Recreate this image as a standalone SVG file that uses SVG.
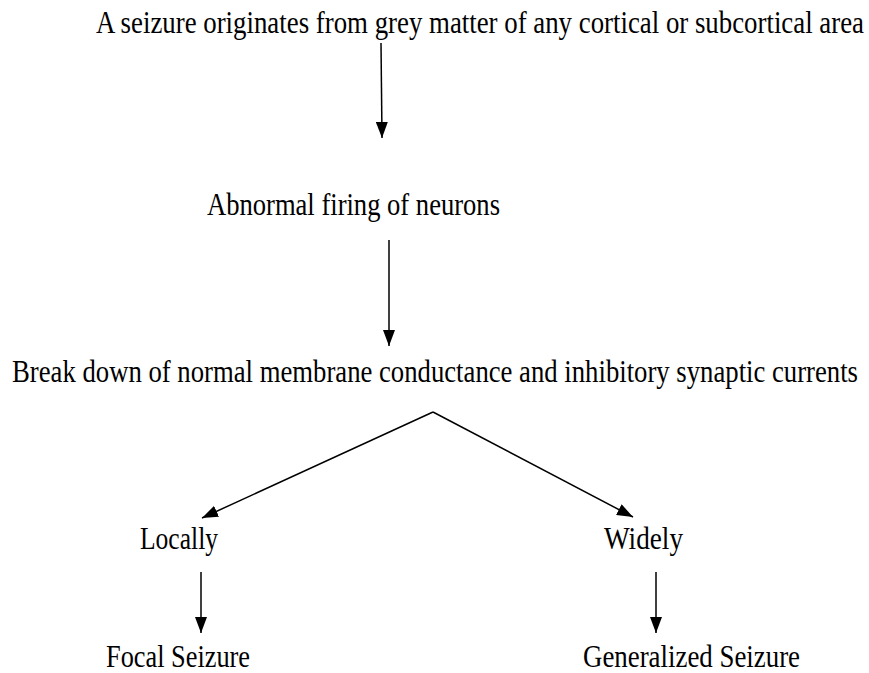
<svg xmlns="http://www.w3.org/2000/svg" width="869" height="673" viewBox="0 0 869 673">
<style>
.t{font-family:'Liberation Serif','DejaVu Serif',serif;font-size:31px;fill:#000}
.c{stroke:#000;stroke-width:1.5;fill:none}
</style>
<defs>
<marker id="ah" viewBox="0 0 16 12" refX="16" refY="6" markerWidth="16" markerHeight="12" markerUnits="userSpaceOnUse" orient="auto">
<path d="M0,0 L16,6 L0,12 Z" fill="#000"/>
</marker>
</defs>
<rect width="869" height="673" fill="#fff"/>
<g id="n1"><text class="t" font-family="Liberation Serif" x="96" y="33" textLength="768" lengthAdjust="spacingAndGlyphs">A seizure originates from grey matter of any cortical or subcortical area</text></g>
<g id="n2"><text class="t" font-family="Liberation Serif" x="207" y="215" textLength="293" lengthAdjust="spacingAndGlyphs">Abnormal firing of neurons</text></g>
<g id="n3"><text class="t" font-family="Liberation Serif" x="12" y="382" textLength="846" lengthAdjust="spacingAndGlyphs">Break down of normal membrane  conductance and inhibitory synaptic currents</text></g>
<g id="n4"><text class="t" font-family="Liberation Serif" x="140" y="549" textLength="78" lengthAdjust="spacingAndGlyphs">Locally</text></g>
<g id="n5"><text class="t" font-family="Liberation Serif" x="604" y="549" textLength="79" lengthAdjust="spacingAndGlyphs">Widely</text></g>
<g id="n6"><text class="t" font-family="Liberation Serif" x="106" y="667" textLength="144" lengthAdjust="spacingAndGlyphs">Focal Seizure</text></g>
<g id="n7"><text class="t" font-family="Liberation Serif" x="583" y="667" textLength="217" lengthAdjust="spacingAndGlyphs">Generalized Seizure</text></g>
<g id="connectors">
<line class="c" x1="381" y1="43" x2="382" y2="138" marker-end="url(#ah)"/>
<line class="c" x1="389" y1="240" x2="389" y2="346" marker-end="url(#ah)"/>
<line class="c" x1="433" y1="412" x2="202" y2="518" marker-end="url(#ah)"/>
<line class="c" x1="433" y1="412" x2="633" y2="517" marker-end="url(#ah)"/>
<line class="c" x1="201" y1="572" x2="201" y2="633" marker-end="url(#ah)"/>
<line class="c" x1="656" y1="572" x2="656" y2="633" marker-end="url(#ah)"/>
</g>
</svg>
